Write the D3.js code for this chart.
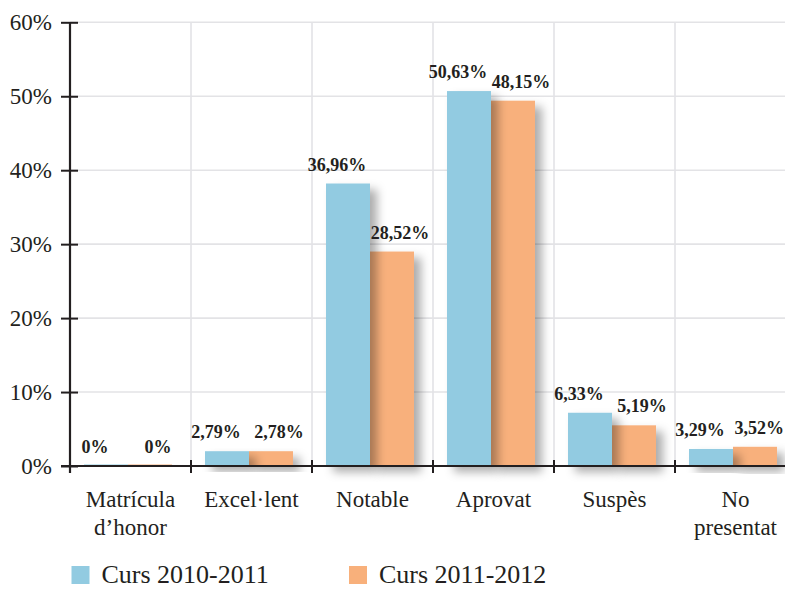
<!DOCTYPE html>
<html>
<head>
<meta charset="utf-8">
<script src="https://cdn.jsdelivr.net/npm/d3@7"></script>
<style>
  html, body { margin: 0; padding: 0; background: #ffffff; }
  svg { display: block; }
</style>
</head>
<body>
<svg id="chart" width="785" height="589"></svg>
<script>
// ---- data ----
const categories = [["Matrícula", "d’honor"], ["Excel·lent"], ["Notable"], ["Aprovat"], ["Suspès"], ["No", "presentat"]];
const seriesNames = ["Curs 2010-2011", "Curs 2011-2012"];
const values2010 = [0, 2.0, 38.2, 50.7, 7.2, 2.3];
const values2011 = [0, 2.0, 29.0, 49.4, 5.5, 2.6];
const labels2010 = ["0%", "2,79%", "36,96%", "50,63%", "6,33%", "3,29%"];
const labels2011 = ["0%", "2,78%", "28,52%", "48,15%", "5,19%", "3,52%"];
const yTicks = [0, 10, 20, 30, 40, 50, 60];
const colors = ["#92cbe1", "#f8b07b"];

// ---- layout ----
const W = 785;
const svg = d3.select("#chart");
const plotLeft = 70, plotBottom = 466, plotTop = 22.3, bandW = 121;
const catIdx = d3.range(categories.length);
const x0 = d3.scaleBand().domain(catIdx).range([plotLeft, plotLeft + bandW * categories.length]).padding(0);
const x1 = d3.scaleBand().domain([0, 1]).range([14, 14 + 88]).padding(0);
const y = d3.scaleLinear().domain([0, 60]).range([plotBottom, plotTop]);

const defs = svg.append("defs");
const f = defs.append("filter").attr("id", "shadow").attr("x", "-20%").attr("y", "-20%").attr("width", "160%").attr("height", "160%");
f.append("feDropShadow").attr("dx", 7).attr("dy", 6).attr("stdDeviation", 5)
  .attr("flood-color", "#000").attr("flood-opacity", 0.32);

const font = "'Liberation Serif', 'DejaVu Serif', serif";
const grid = "#e3e3e6";
const axisColor = "#231f20";

// horizontal gridlines
svg.append("g").selectAll("line").data(yTicks.filter(d => d > 0)).join("line")
  .attr("x1", plotLeft).attr("x2", W)
  .attr("y1", d => y(d)).attr("y2", d => y(d))
  .attr("stroke", grid).attr("stroke-width", 1.6);

// vertical gridlines
svg.append("g").selectAll("line").data(catIdx.slice(1)).join("line")
  .attr("x1", d => x0(d)).attr("x2", d => x0(d))
  .attr("y1", plotTop).attr("y2", plotBottom)
  .attr("stroke", grid).attr("stroke-width", 1.6);

// bars: orange first, then blue on top so blue shadow falls on orange
const seriesVals = [values2010, values2011];
[1, 0].forEach(s => {
  svg.append("g").selectAll("rect").data(catIdx).join("rect")
    .attr("x", d => x0(d) + x1(s))
    .attr("width", x1.bandwidth())
    .attr("y", d => Math.min(y(seriesVals[s][d]), plotBottom - 1.5))
    .attr("height", d => Math.max(plotBottom - y(seriesVals[s][d]), 1.5))
    .attr("fill", colors[s])
    .attr("filter", "url(#shadow)");
});

// value labels
const seriesLabels = [labels2010, labels2011];
const labelShift = [-11, 8];
[0, 1].forEach(s => {
  svg.append("g").selectAll("text").data(catIdx).join("text")
    .attr("x", d => x0(d) + x1(s) + x1.bandwidth() / 2 + labelShift[s])
    .attr("y", d => y(seriesVals[s][d]) - 13)
    .attr("text-anchor", "middle")
    .attr("font-family", font).attr("font-weight", "bold").attr("font-size", 18)
    .attr("fill", "#231f20")
    .text(d => seriesLabels[s][d])
    .each(function() {
      // keep inside the right edge
      const bb = this.getBBox();
      const over = bb.x + bb.width - (W - 1);
      if (over > 0) d3.select(this).attr("x", +d3.select(this).attr("x") - over);
    });
});

// y axis
const yAxis = d3.axisLeft(y).tickValues(yTicks).tickFormat(d => d + "%").tickSize(0).tickPadding(18);
const gy = svg.append("g").attr("transform", `translate(${plotLeft},0)`).call(yAxis);
gy.select(".domain").remove();
gy.selectAll("text").attr("font-family", font).attr("font-size", 23).attr("fill", "#231f20");
gy.selectAll(".tick").append("line").attr("x1", -9).attr("x2", 8)
  .attr("stroke", axisColor).attr("stroke-width", 2);
svg.append("line").attr("x1", plotLeft).attr("x2", plotLeft).attr("y1", plotTop).attr("y2", plotBottom + 7)
  .attr("stroke", axisColor).attr("stroke-width", 2.2);

// x axis
svg.append("line").attr("x1", plotLeft - 9).attr("x2", W).attr("y1", plotBottom).attr("y2", plotBottom)
  .attr("stroke", axisColor).attr("stroke-width", 2.2);
svg.append("g").selectAll("line").data(catIdx.slice(1)).join("line")
  .attr("x1", d => x0(d)).attr("x2", d => x0(d))
  .attr("y1", plotBottom - 6).attr("y2", plotBottom + 7)
  .attr("stroke", axisColor).attr("stroke-width", 2);

// category labels
const cl = svg.append("g").selectAll("text").data(catIdx).join("text")
  .attr("x", d => x0(d) + x0.bandwidth() / 2)
  .attr("y", 507)
  .attr("text-anchor", "middle")
  .attr("font-family", font).attr("font-size", 23).attr("fill", "#231f20");
cl.each(function(d) {
  const t = d3.select(this);
  categories[d].forEach((line, i) => {
    t.append("tspan").attr("x", x0(d) + x0.bandwidth() / 2).attr("dy", i === 0 ? 0 : 28).text(line);
  });
});

// legend
const legendX = [71.5, 349];
const lg = svg.append("g").selectAll("g").data([0, 1]).join("g")
  .attr("transform", d => `translate(${legendX[d]},566)`);
lg.append("rect").attr("width", 18).attr("height", 18).attr("fill", d => colors[d]);
lg.append("text").attr("x", 30).attr("y", 17)
  .attr("font-family", font).attr("font-size", 26).attr("fill", "#231f20")
  .text(d => seriesNames[d]);
</script>
</body>
</html>
